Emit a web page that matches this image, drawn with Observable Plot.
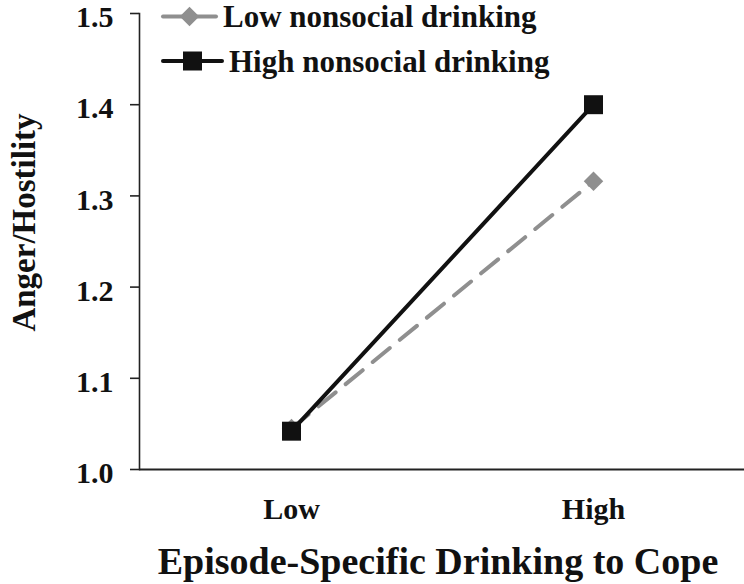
<!DOCTYPE html>
<html>
<head>
<meta charset="utf-8">
<script src="https://cdn.jsdelivr.net/npm/d3@7"></script>
<script src="https://cdn.jsdelivr.net/npm/@observablehq/plot@0.6"></script>
<style>
  html, body { margin: 0; padding: 0; background: #fff; }
  #wrap { position: relative; width: 744px; height: 584px; }
  #legend { position: absolute; left: 0; top: 0; }
  svg text { font-family: "Liberation Serif", "Times New Roman", serif; font-weight: bold; }
</style>
</head>
<body>
<div id="wrap"></div>
<script>
const categories = ["Low", "High"];
const seriesNames = ["Low nonsocial drinking", "High nonsocial drinking"];
const lowNonsocial = [1.045, 1.316];
const highNonsocial = [1.042, 1.400];
const yTicks = [1.0, 1.1, 1.2, 1.3, 1.4, 1.5];
const xTitle = "Episode-Specific Drinking to Cope";
const yTitle = "Anger/Hostility";

const gray = "#8f8f8f";
const black = "#111111";
const fontFamily = "'Liberation Serif', 'Times New Roman', serif";

const lowData = categories.map((c, i) => ({cat: c, v: lowNonsocial[i]}));
const highData = categories.map((c, i) => ({cat: c, v: highNonsocial[i]}));

const chart = Plot.plot({
  width: 744,
  height: 584,
  marginTop: 13,
  marginBottom: 115,
  marginLeft: 139,
  marginRight: 0,
  style: {fontFamily, fontWeight: "bold", background: "#fff", color: "#111", overflow: "visible"},
  x: {type: "point", domain: categories, padding: 0.5},
  y: {domain: [1.0, 1.5]},
  marks: [
    Plot.frame({anchor: "left", stroke: "#222", strokeWidth: 1.6}),
    Plot.ruleY([1.0], {stroke: "#222", strokeWidth: 2}),
    Plot.axisY({ticks: yTicks, tickFormat: null, tickSize: 9, text: null, label: null,
      stroke: "#222", strokeWidth: 1.6}),
    Plot.axisY({ticks: yTicks, tickFormat: d3.format(".1f"), tickSize: 0, tickPadding: 26, dy: 4,
      fontSize: 30, fontWeight: "bold", label: null}),
    Plot.axisX({tickSize: 0, tickPadding: 28, fontSize: 30, fontWeight: "bold", label: null}),
    Plot.text([yTitle], {frameAnchor: "left", textAnchor: "middle", lineAnchor: "middle", rotate: -90,
      dx: -115, dy: -19, fontSize: 33, fontWeight: "bold", fill: "#111"}),
    Plot.text([xTitle], {frameAnchor: "bottom", textAnchor: "middle", lineAnchor: "middle",
      dx: -4, dy: 92, fontSize: 38, fontWeight: "bold", fill: "#111"}),
    Plot.line(lowData, {x: "cat", y: "v", stroke: gray, strokeWidth: 4, strokeDasharray: "22,13"}),
    Plot.dot(lowData, {x: "cat", y: "v", symbol: "diamond2", r: 8.8, fill: gray, stroke: null}),
    Plot.line(highData, {x: "cat", y: "v", stroke: black, strokeWidth: 4}),
    Plot.dot(highData, {x: "cat", y: "v", symbol: "square", r: 10.7, fill: black, stroke: null})
  ]
});

const wrap = document.getElementById("wrap");
wrap.appendChild(chart);

// Legend overlay
const leg = d3.create("svg").attr("id", "legend").attr("width", 744).attr("height", 90);
const items = [
  {name: seriesNames[0], color: gray, sym: "diamond", y: 16.5, x2: 216},
  {name: seriesNames[1], color: black, sym: "square", y: 61, x2: 222}
];
items.forEach(it => {
  leg.append("line").attr("x1", 163).attr("x2", it.x2).attr("y1", it.y).attr("y2", it.y)
    .attr("stroke", it.color).attr("stroke-width", 4).attr("stroke-linecap", "round");
  const cx = (163 + it.x2) / 2;
  if (it.sym === "diamond") {
    leg.append("path").attr("d", d3.symbol(d3.symbolDiamond2, 243)()).attr("transform", `translate(${cx},${it.y})`).attr("fill", it.color);
  } else {
    leg.append("rect").attr("x", cx - 9.5).attr("y", it.y - 9.5).attr("width", 19).attr("height", 19).attr("fill", it.color);
  }
  leg.append("text").attr("x", it.x2 + 7).attr("y", it.y).attr("dy", "0.35em")
    .attr("font-size", 31).attr("fill", "#111").text(it.name);
});
wrap.appendChild(leg.node());
</script>
</body>
</html>
